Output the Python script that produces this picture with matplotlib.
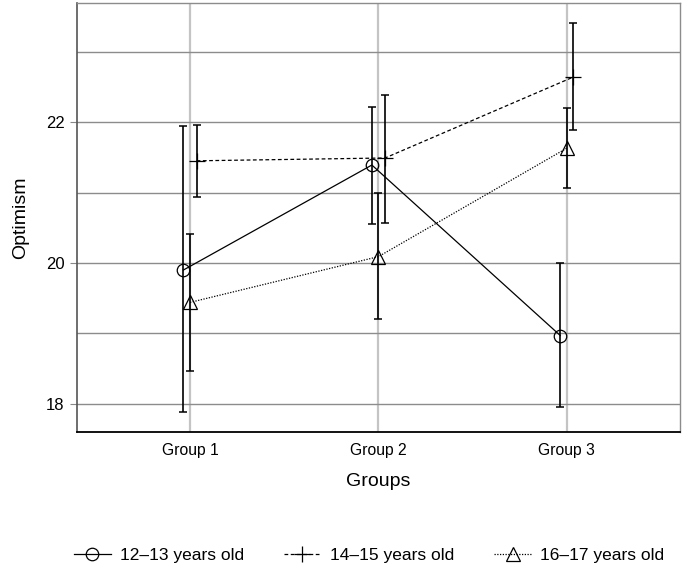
import matplotlib
matplotlib.use("Agg")
import matplotlib.pyplot as plt
import numpy as np

plt.rcParams['font.family'] = ['Liberation Sans', 'DejaVu Sans']

groups = ["Group 1", "Group 2", "Group 3"]
series = ["12–13 years old", "14–15 years old", "16–17 years old"]
means = {
    "12–13 years old": [19.90, 21.39, 18.97],
    "14–15 years old": [21.45, 21.49, 22.64],
    "16–17 years old": [19.44, 20.09, 21.63],
}
lower = {
    "12–13 years old": [17.88, 20.56, 17.96],
    "14–15 years old": [20.94, 20.57, 21.89],
    "16–17 years old": [18.46, 19.21, 21.06],
}
upper = {
    "12–13 years old": [21.94, 22.22, 20.00],
    "14–15 years old": [21.96, 22.38, 23.41],
    "16–17 years old": [20.41, 20.99, 22.20],
}

offsets = [-0.035, 0.035, 0.0]
markers = ['o', '+', '^']
linestyles = ['-', (0, (3, 2)), (0, (1, 1.2))]
msizes = [9, 12, 10]

fig = plt.figure(figsize=(6.84, 5.68), dpi=100)
ax = fig.add_axes([0.1126, 0.2394, 0.8814, 0.7553])

x = np.arange(1, len(groups) + 1)
handles = []
for i, s in enumerate(series):
    m = np.array(means[s])
    lo = m - np.array(lower[s])
    hi = np.array(upper[s]) - m
    xs = x + offsets[i]
    ax.errorbar(xs, m, yerr=[lo, hi], fmt='none', ecolor='black',
                elinewidth=1.2, capsize=3, capthick=1.1, zorder=3)
    h, = ax.plot(xs, m, color='black', linestyle=linestyles[i], linewidth=0.9,
                 marker=markers[i], markersize=msizes[i], markerfacecolor='none',
                 markeredgecolor='black', markeredgewidth=0.9, label=s, zorder=4)
    handles.append(h)

ax.set_xlim(0.4, 3.6)
ax.set_ylim(17.6, 23.69)
ax.set_xticks(x)
ax.set_xticklabels(groups, fontsize=11.3)
ax.set_yticks([18, 20, 22])
ax.set_yticks([19, 21, 23], minor=True)
ax.tick_params(axis='y', which='major', labelsize=12, length=5, color='#888888', pad=4)
ax.tick_params(axis='y', which='minor', length=0)
ax.tick_params(axis='x', length=0, pad=8)

ax.grid(axis='y', which='both', color='#8c8c8c', linewidth=1.0, zorder=0)
ax.grid(axis='x', which='major', color='#c4c4c4', linewidth=1.6, zorder=0)
ax.set_axisbelow(True)

for side in ['top', 'right']:
    ax.spines[side].set_color('#8c8c8c')
    ax.spines[side].set_linewidth(1.0)
ax.spines['left'].set_color('#555555')
ax.spines['bottom'].set_color('black')
ax.spines['left'].set_linewidth(1.2)
ax.spines['bottom'].set_linewidth(1.3)

ax.set_xlabel("Groups", fontsize=14, labelpad=11)
ax.set_ylabel("Optimism", fontsize=14, labelpad=12)

fig.legend(handles=handles, labels=series, loc='lower center', ncol=3,
           frameon=False, fontsize=12.5, bbox_to_anchor=(0.54, -0.018),
           handlelength=2.1, columnspacing=2.3, handletextpad=0.55)

fig.savefig("out.png", dpi=100)
